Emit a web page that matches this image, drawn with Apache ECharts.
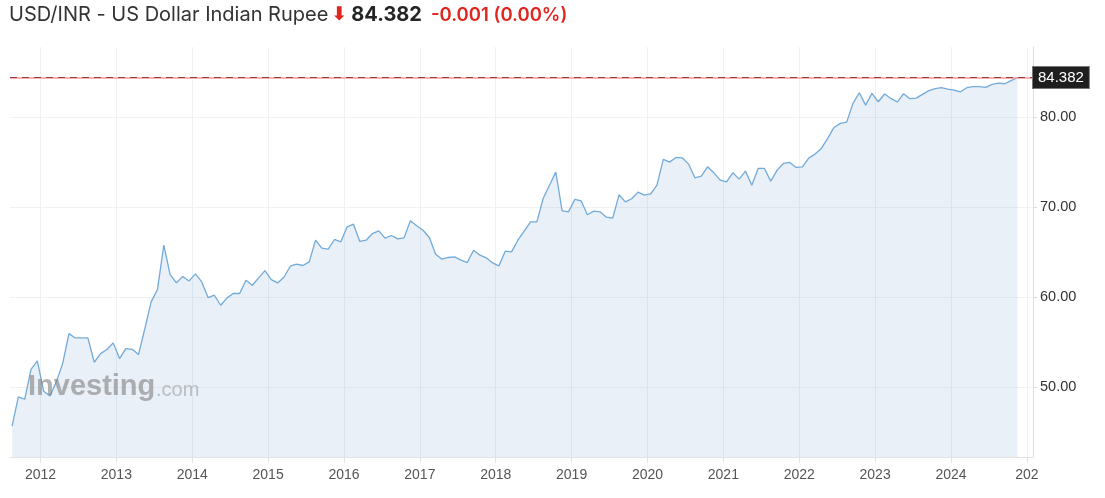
<!DOCTYPE html>
<html><head><meta charset="utf-8">
<script src="https://cdn.jsdelivr.net/npm/echarts@6/dist/echarts.min.js"></script>
<style>html,body{margin:0;padding:0;background:#fff}#c{width:1105px;height:498px}</style>
</head><body><div id="c"></div>
<script>
// Monthly USD/INR closes
const rates2011 = [45.70, 48.93, 48.67, 52.00, 52.93]; // Aug–Dec
const rates2012 = [49.56, 49.04, 50.60, 52.63, 55.96, 55.48, 55.48, 55.48, 52.78, 53.74, 54.19, 54.93];
const rates2013 = [53.19, 54.30, 54.22, 53.63, 56.50, 59.48, 60.85, 65.78, 62.52, 61.59, 62.30, 61.81];
const rates2014 = [62.59, 61.70, 59.96, 60.22, 59.11, 59.93, 60.41, 60.41, 61.89, 61.33, 62.15, 62.96];
const rates2015 = [61.96, 61.59, 62.22, 63.44, 63.67, 63.52, 63.93, 66.33, 65.44, 65.33, 66.41, 66.15];
const rates2016 = [67.81, 68.11, 66.19, 66.33, 67.07, 67.37, 66.56, 66.85, 66.48, 66.59, 68.48, 67.93];
const rates2017 = [67.44, 66.63, 64.78, 64.22, 64.41, 64.48, 64.11, 63.85, 65.22, 64.67, 64.37, 63.81];
const rates2018 = [63.48, 65.11, 65.04, 66.33, 67.33, 68.37, 68.37, 70.96, 72.44, 73.89, 69.59, 69.48];
const rates2019 = [70.85, 70.70, 69.15, 69.56, 69.48, 68.89, 68.78, 71.37, 70.59, 70.93, 71.67, 71.33];
const rates2020 = [71.48, 72.44, 75.30, 75.00, 75.52, 75.48, 74.78, 73.26, 73.44, 74.48, 73.81, 73.00];
const rates2021 = [72.81, 73.81, 73.11, 74.00, 72.44, 74.30, 74.30, 72.89, 74.11, 74.85, 74.96, 74.41];
const rates2022 = [74.48, 75.44, 75.89, 76.52, 77.63, 78.85, 79.30, 79.44, 81.52, 82.70, 81.33, 82.63];
const rates2023 = [81.70, 82.56, 82.07, 81.67, 82.59, 82.04, 82.11, 82.52, 82.93, 83.15, 83.26, 83.11];
const rates2024 = [83.00, 82.81, 83.26, 83.37, 83.37, 83.30, 83.63, 83.78, 83.70, 84.04, 84.382]; // Jan–Nov

const lastPrice = 84.382;
const changeText = '-0.001 (0.00%)';
const titleText = 'USD/INR - US Dollar Indian Rupee';

const xTicks = [2012, 2013, 2014, 2015, 2016, 2017, 2018, 2019, 2020, 2021, 2022, 2023, 2024, 2025];
const xTickLabels = ['2012', '2013', '2014', '2015', '2016', '2017', '2018', '2019', '2020', '2021', '2022', '2023', '2024', '202'];
const yTicks = [50, 60, 70, 80];

const yearly = [
  [2011, 8, rates2011], [2012, 1, rates2012], [2013, 1, rates2013], [2014, 1, rates2014],
  [2015, 1, rates2015], [2016, 1, rates2016], [2017, 1, rates2017], [2018, 1, rates2018],
  [2019, 1, rates2019], [2020, 1, rates2020], [2021, 1, rates2021], [2022, 1, rates2022],
  [2023, 1, rates2023], [2024, 1, rates2024]
];
const data = [];
yearly.forEach(([y, m0, arr]) => arr.forEach((v, i) => data.push([y + (m0 + i - 0.5) / 12, v])));

const chart = echarts.init(document.getElementById('c'), null, { renderer: 'canvas' });
chart.setOption({
  animation: false,
  backgroundColor: '#fff',
  title: {
    left: 9, top: 3, padding: 0,
    text: '{a|' + titleText + '}{arr|⬇}{b|' + lastPrice.toFixed(3) + '}{c|' + changeText + '}',
    textStyle: {
      fontWeight: 'normal',
      rich: {
        a: { fontFamily: 'Inter', fontSize: 20, color: '#333333', fontWeight: 'normal', lineHeight: 24 },
        arr: { fontFamily: 'DejaVu Sans', fontSize: 19, color: '#e0261e', fontWeight: 'bold', padding: [0, 4, 0, 3], lineHeight: 24 },
        b: { fontFamily: 'Inter', fontSize: 20, color: '#232526', fontWeight: 'bold', padding: [0, 9, 0, 0], lineHeight: 24 },
        c: { fontFamily: 'Inter', fontSize: 18.5, color: '#e0261e', fontWeight: 600, lineHeight: 24 }
      }
    }
  },
  grid: { left: 10, right: 72, top: 47, bottom: 41 },
  xAxis: {
    type: 'value', min: 2011.598, max: 2025.081,
    axisLine: { show: true, lineStyle: { color: '#e2e2e2' } },
    axisTick: { show: true, length: 6, customValues: xTicks, lineStyle: { color: '#e2e2e2' } },
    axisLabel: {
      customValues: xTicks,
      formatter: v => xTickLabels[xTicks.indexOf(Math.round(v))],
      color: '#555', fontSize: 14, fontFamily: '"Liberation Sans"', margin: 11
    },
    splitLine: { show: true, lineStyle: { color: '#eef1f5' } }
  },
  yAxis: {
    type: 'value', position: 'right', min: 42.26, max: 87.78,
    axisLine: { show: true, lineStyle: { color: '#dddddd' } },
    axisTick: { show: true, length: 4, customValues: yTicks, lineStyle: { color: '#dddddd' } },
    axisLabel: {
      customValues: yTicks, formatter: v => v.toFixed(2),
      color: '#333', fontSize: 14.5, fontFamily: '"Liberation Sans"', margin: 7
    },
    splitLine: { show: true, lineStyle: { color: '#f1f1f1' } }
  },
  graphic: [
    { type: 'text', x: 28, y: 387, z: 10, silent: true,
      style: { text: 'Investing', font: 'bold 29px "Liberation Sans"', fill: 'rgba(130,130,130,0.62)', verticalAlign: 'middle', align: 'left' } },
    { type: 'text', x: 156, y: 390, z: 10, silent: true,
      style: { text: '.com', font: '20px "Liberation Sans"', fill: 'rgba(150,150,150,0.55)', verticalAlign: 'middle', align: 'left' } }
  ],
  series: [{
    type: 'line', data: data, symbol: 'none', smooth: false,
    lineStyle: { color: '#72aad9', width: 1.3 },
    areaStyle: { color: 'rgba(100,150,200,0.2)', origin: 'start' },
    markLine: {
      silent: true, symbol: 'none', animation: false,
      data: [
        { yAxis: lastPrice, lineStyle: { color: '#f29a9a', type: 'solid', width: 1.6 }, label: { show: false } },
        { yAxis: lastPrice, lineStyle: { color: '#9a3a3a', type: [7, 5], width: 1 },
          label: { show: true, position: 'end', distance: 0, formatter: lastPrice.toFixed(3),
            color: '#fff', fontSize: 15, fontFamily: '"Liberation Sans"', backgroundColor: '#1f1f1f',
            borderColor: '#777', borderWidth: 1, padding: [3, 5, 3, 5] } }
      ]
    }
  }]
});
</script></body></html>
